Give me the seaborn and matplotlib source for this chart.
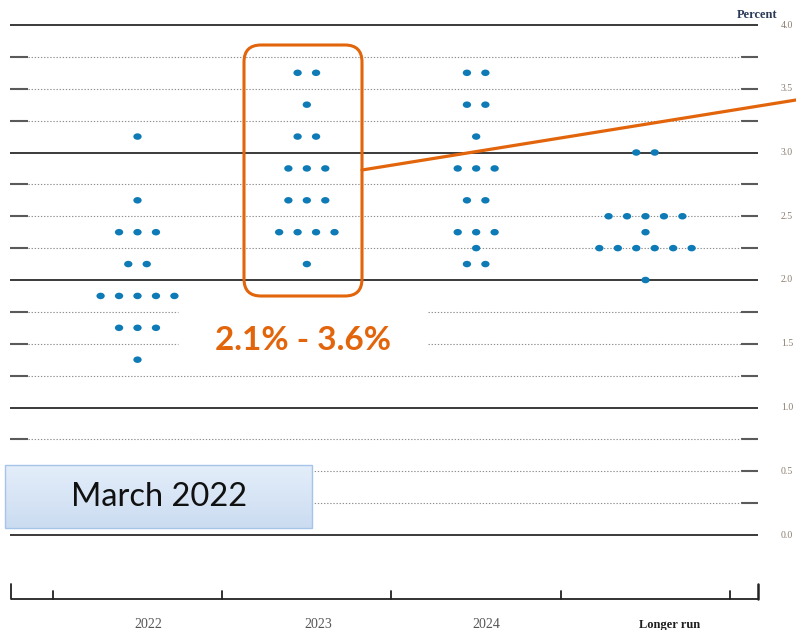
import numpy as np
import pandas as pd
import matplotlib
matplotlib.use("Agg")
import matplotlib.pyplot as plt
import matplotlib.transforms as mtransforms
from matplotlib.patches import FancyBboxPatch, Rectangle
from matplotlib.path import Path
from matplotlib.lines import Line2D
from matplotlib.colors import LinearSegmentedColormap
import seaborn as sns

# ---------------- data ----------------
categories = ["2022", "2023", "2024", "Longer run"]

rates_2022 = [3.125, 2.625, 2.375, 2.125, 1.875, 1.625, 1.375]
counts_2022 = [1, 1, 3, 2, 5, 3, 1]

rates_2023 = [3.625, 3.375, 3.125, 2.875, 2.625, 2.375, 2.125]
counts_2023 = [2, 1, 2, 3, 3, 4, 1]

rates_2024 = [3.625, 3.375, 3.125, 2.875, 2.625, 2.375, 2.25, 2.125]
counts_2024 = [2, 2, 1, 3, 2, 3, 1, 2]

rates_lr = [3.0, 2.5, 2.375, 2.25, 2.0]
counts_lr = [2, 5, 1, 6, 1]

ytick_values = [0.0, 0.5, 1.0, 1.5, 2.0, 2.5, 3.0, 3.5, 4.0]
ytick_labels = ["0.0", "0.5", "1.0", "1.5", "2.0", "2.5", "3.0", "3.5", "4.0"]

range_label = "2.1% - 3.6%"
meeting_label = "March 2022"

# ---------------- build table ----------------
DOT_STEP = 0.109  # horizontal spacing between dots (category units)
rows = []
for ci, (rates, counts) in enumerate([(rates_2022, counts_2022), (rates_2023, counts_2023),
                                      (rates_2024, counts_2024), (rates_lr, counts_lr)]):
    for r, n in zip(rates, counts):
        for k in range(n):
            rows.append({"cat": ci, "rate": r, "x": ci + (k - (n - 1) / 2) * DOT_STEP})
df = pd.DataFrame(rows)

# ---------------- figure ----------------
sns.set_theme(style="white")
W, H = 796, 630
fig = plt.figure(figsize=(W / 100, H / 100), dpi=100)
ax = fig.add_axes([0, 0, 1, 1])

PX_PER_CAT = 169.33
X0 = 137.5
Y0 = 535.0
PX_PER_UNIT = 127.5

def xd(px):
    return (px - X0) / PX_PER_CAT

def yd(py):
    return (Y0 - py) / PX_PER_UNIT

ax.set_xlim(xd(0), xd(W))
ax.set_ylim(yd(H), yd(0))
ax.axis("off")

# ---------------- grid lines ----------------
levels = np.arange(0, 4.001, 0.25)
for lv in levels:
    if abs(lv - round(lv)) < 1e-9:
        ax.plot([xd(10), xd(758)], [lv, lv], color="#2b2b2b", lw=1.3, zorder=1,
                solid_capstyle="butt")
    else:
        ax.plot([xd(10), xd(28)], [lv, lv], color="#5a5a5a", lw=1.5, zorder=1,
                solid_capstyle="butt")
        ax.plot([xd(741), xd(758)], [lv, lv], color="#5a5a5a", lw=1.5, zorder=1,
                solid_capstyle="butt")
        if lv in (1.5, 1.75):
            segs = [(28, 178), (428, 741)]
        else:
            segs = [(28, 741)]
        for a, b in segs:
            ax.plot([xd(a), xd(b)], [lv, lv], color="#8f8f8f", lw=0.8,
                    linestyle=(0, (1.2, 1.6)), zorder=1)

# right-hand y labels
for v, lab in zip(ytick_values, ytick_labels):
    ax.text(xd(781), v, lab, ha="left", va="center", fontsize=7,
            family="Liberation Serif", color="#8a7d70")
ax.text(xd(757), yd(15), "Percent", ha="center", va="center", fontsize=9,
        family="Liberation Serif", color="#2c3a58", fontweight="bold")

# ---------------- dots ----------------
ellipse = Path.unit_circle().transformed(mtransforms.Affine2D().scale(1.28, 1.0))
sns.scatterplot(data=df, x="x", y="rate", ax=ax, marker=ellipse, s=36,
                color="#0f7bb6", edgecolor="none", linewidth=0, zorder=3, legend=False)
ax.set_xlim(xd(0), xd(W))
ax.set_ylim(yd(H), yd(0))
ax.set_xlabel("")
ax.set_ylabel("")

# ---------------- bottom axis ----------------
ybase = yd(599)
ax.plot([xd(11), xd(758)], [ybase, ybase], color="#222222", lw=1.3, zorder=2,
        solid_capstyle="butt")
for b in [xd(11), xd(758)]:
    ax.plot([b, b], [ybase, yd(584)], color="#222222", lw=1.8 if b > 0 else 1.3, zorder=2)
for i in range(len(categories) + 1):
    b = i - 0.5
    ax.plot([b, b], [ybase, yd(591)], color="#222222", lw=1.3, zorder=2)

label_offset = [0.065, 0.065, 0.06, 0.145]
for i, cat in enumerate(categories):
    bold = cat == "Longer run"
    ax.text(i + label_offset[i], yd(625), cat, ha="center", va="center",
            fontsize=9 if bold else 10, family="Liberation Serif",
            fontweight="bold" if bold else "normal",
            color="#1e1e1e" if bold else "#555555")

# ---------------- annotations ----------------
pix = mtransforms.Affine2D().scale(1, -1).translate(0, H)  # image px -> display px
orange = "#E2650C"
box = FancyBboxPatch((244, 45), 118, 251, boxstyle="round,pad=0,rounding_size=17",
                     transform=pix, facecolor="none", edgecolor=orange, lw=2.2, zorder=5)
ax.add_patch(box)
ax.add_line(Line2D([362, 796], [170, 100], transform=pix, color=orange, lw=2.3, zorder=5))
ax.text(303, 341, range_label, transform=pix, ha="center", va="center",
        fontsize=24, fontweight="bold", family="Lato", color=orange, zorder=6)

# "March 2022" box with light vertical gradient
grad_cmap = LinearSegmentedColormap.from_list("g", ["#e4eefa", "#cbdcf1"])
grad = np.linspace(0, 1, 64).reshape(-1, 1)
ax.imshow(grad, cmap=grad_cmap, aspect="auto", origin="upper",
          extent=(xd(5), xd(312), yd(528), yd(465)), zorder=5, interpolation="bilinear")
mbox = Rectangle((5, 465), 307, 63, transform=pix, facecolor="none",
                 edgecolor="#a6c3e8", lw=1.0, zorder=5.5)
ax.add_patch(mbox)
ax.set_xlim(xd(0), xd(W))
ax.set_ylim(yd(H), yd(0))
ax.text(159, 497, meeting_label, transform=pix, ha="center", va="center",
        fontsize=23.5, family="Lato", color="#111111", zorder=6)

fig.savefig("out.png", dpi=100)
